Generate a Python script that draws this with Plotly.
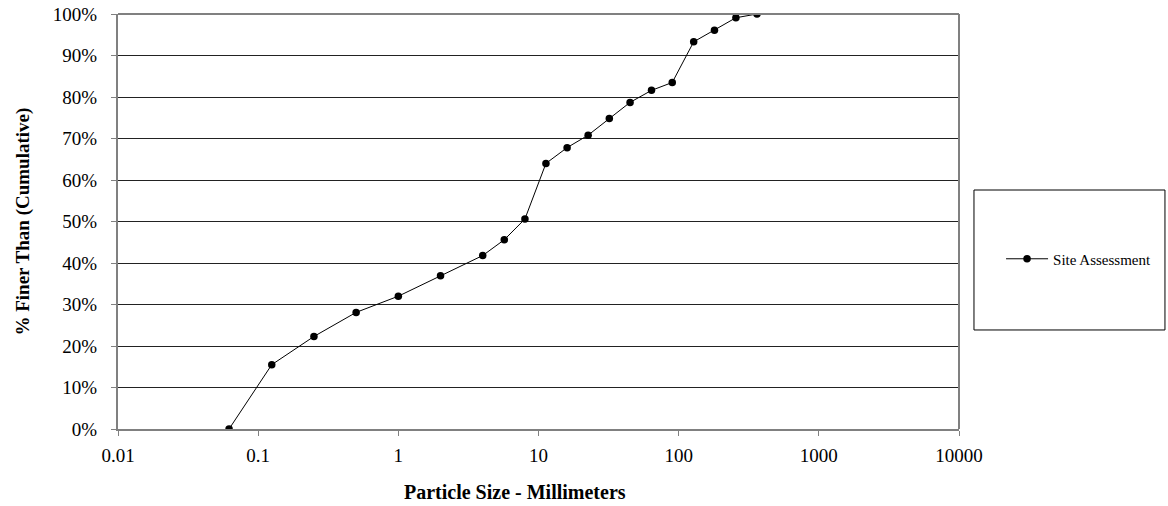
import plotly.graph_objects as go

# Sieve sizes (mm) and cumulative percent finer
particle_size_mm = [0.062, 0.125, 0.25, 0.5, 1, 2, 4, 5.7, 8, 11.3, 16, 22.6,
                    32, 45, 64, 90, 128, 180, 256, 362]
percent_finer = [0.0, 15.5, 22.3, 28.1, 32.0, 36.9, 41.8, 45.6, 50.6, 64.0,
                 67.8, 70.8, 74.8, 78.7, 81.6, 83.5, 93.3, 96.1, 99.1, 100.0]

x_tick_vals = [0.01, 0.1, 1, 10, 100, 1000, 10000]
x_tick_text = ["0.01", "0.1", "1", "10", "100", "1000", "10000"]
y_tick_vals = [0, 10, 20, 30, 40, 50, 60, 70, 80, 90, 100]
y_tick_text = [f"{v}%" for v in y_tick_vals]

series_name = "Site Assessment"
x_title = "Particle Size - Millimeters"
y_title = "% Finer Than (Cumulative)"

FONT = "Liberation Serif, Times New Roman, serif"

fig = go.Figure()
fig.add_trace(go.Scatter(
    x=particle_size_mm,
    y=percent_finer,
    mode="lines+markers",
    name=series_name,
    line=dict(color="black", width=1),
    marker=dict(color="black", size=7.5, symbol="circle"),
))

fig.update_layout(
    width=1168,
    height=506,
    margin=dict(l=118, r=209, t=14, b=77, autoexpand=False),
    paper_bgcolor="white",
    plot_bgcolor="white",
    font=dict(family=FONT, color="black", size=19),
    showlegend=True,
    legend=dict(
        x=1.05, y=0.4096, xanchor="left", yanchor="middle",
        font=dict(family=FONT, size=15, color="black"),
        bgcolor="rgba(0,0,0,0)", borderwidth=0,
        itemwidth=42,
    ),
    xaxis=dict(
        type="log",
        range=[-2, 4],
        tickvals=x_tick_vals,
        ticktext=x_tick_text,
        showgrid=False,
        showline=True, linecolor="#808080", linewidth=2,
        ticks="outside", ticklen=5, tickcolor="#808080", tickwidth=1,
        ticklabelstandoff=3,
        tickfont=dict(family=FONT, size=19),
        zeroline=False,
        automargin=False,
    ),
    yaxis=dict(
        range=[0, 100],
        tickvals=y_tick_vals,
        ticktext=y_tick_text,
        showgrid=True, gridcolor="#222222", gridwidth=1,
        showline=True, linecolor="#808080", linewidth=2,
        ticks="outside", ticklen=5, tickcolor="#808080", tickwidth=1,
        ticklabelstandoff=10,
        tickfont=dict(family=FONT, size=19),
        zeroline=False,
        automargin=False,
    ),
    annotations=[
        dict(text=f"<b>{x_title}</b>", xref="paper", yref="paper",
             x=0.472, y=-0.152, xanchor="center", yanchor="middle",
             showarrow=False, font=dict(family=FONT, size=20)),
        dict(text=f"<b>{y_title}</b>", xref="paper", yref="paper",
             x=-0.1141, y=0.5, xanchor="center", yanchor="middle",
             textangle=-90, showarrow=False, font=dict(family=FONT, size=19)),
    ],
    shapes=[
        # right border of the plot area
        dict(type="line", xref="paper", yref="paper", x0=1, x1=1, y0=0, y1=1,
             line=dict(color="#808080", width=2)),
        # top border of the plot area
        dict(type="line", xref="paper", yref="paper", x0=0, x1=1, y0=1, y1=1,
             line=dict(color="#808080", width=2)),
        # legend frame
        dict(type="rect", xref="paper", yref="paper",
             x0=1.0178, x1=1.2449, y0=0.2386, y1=0.5759,
             line=dict(color="black", width=1), fillcolor="rgba(0,0,0,0)"),
    ],
)

fig.write_html("out.html")
